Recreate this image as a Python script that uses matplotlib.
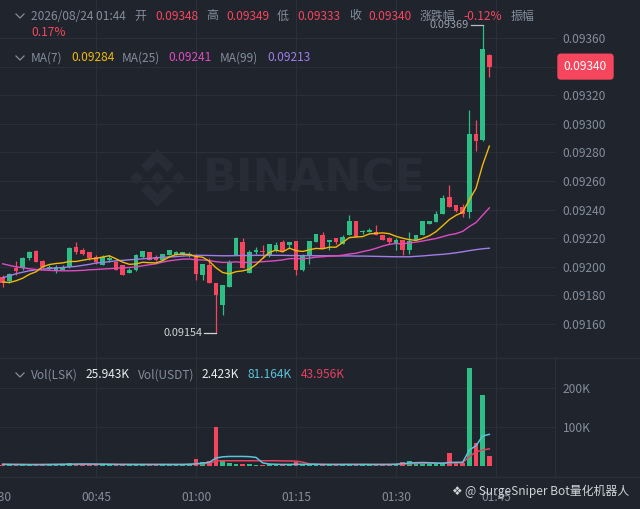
import numpy as np
import pandas as pd
import matplotlib
matplotlib.use("Agg")
import matplotlib.pyplot as plt
import matplotlib.transforms as mtransforms
from matplotlib.patches import Polygon
from matplotlib.lines import Line2D

plt.rcParams['font.family'] = ['Noto Sans CJK SC', 'DejaVu Sans']

# ---- data (1m candles 00:31 .. 01:44) ----
time_ticks = [-1, 14, 29, 44, 59, 74]
time_labels = ['00:30', '00:45', '01:00', '01:15', '01:30', '01:45']
price_ticks = [0.09160, 0.09180, 0.09200, 0.09220, 0.09240, 0.09260,
               0.09280, 0.09300, 0.09320, 0.09340, 0.09360]
vol_ticks = [100, 200]
vol_tick_labels = ['100K', '200K']

opens = [0.09193, 0.09190, 0.09199, 0.09199, 0.09206, 0.09211, 0.09204, 0.09199, 0.09198, 0.09198,
         0.09200, 0.09214, 0.09212, 0.09210, 0.09207, 0.09201, 0.09205, 0.09203, 0.09201, 0.09196,
         0.09198, 0.09207, 0.09210, 0.09207, 0.09205, 0.09208, 0.09208, 0.09208, 0.09208, 0.09208,
         0.09194, 0.09201, 0.09189, 0.09173, 0.09186, 0.09208, 0.09217, 0.09196, 0.09210, 0.09211,
         0.09208, 0.09212, 0.09217, 0.09215, 0.09218, 0.09198, 0.09208, 0.09217, 0.09222, 0.09217,
         0.09220, 0.09216, 0.09222, 0.09232, 0.09224, 0.09224, 0.09224, 0.09222, 0.09220, 0.09216,
         0.09219, 0.09212, 0.09219, 0.09222, 0.09230, 0.09231, 0.09237, 0.09249, 0.09243, 0.09242,
         0.09238, 0.09293, 0.09289, 0.09348]
highs = [0.09194, 0.09196, 0.09204, 0.09207, 0.09211, 0.09212, 0.09205, 0.09201, 0.09201, 0.09201,
         0.09214, 0.09217, 0.09213, 0.09210, 0.09208, 0.09208, 0.09208, 0.09204, 0.09201, 0.09199,
         0.09209, 0.09211, 0.09210, 0.09208, 0.09209, 0.09212, 0.09211, 0.09210, 0.09210, 0.09209,
         0.09202, 0.09206, 0.09189, 0.09187, 0.09205, 0.09221, 0.09220, 0.09212, 0.09214, 0.09215,
         0.09216, 0.09217, 0.09219, 0.09217, 0.09218, 0.09209, 0.09218, 0.09223, 0.09224, 0.09219,
         0.09220, 0.09222, 0.09236, 0.09232, 0.09226, 0.09227, 0.09229, 0.09222, 0.09221, 0.09220,
         0.09219, 0.09224, 0.09222, 0.09232, 0.09232, 0.09239, 0.09250, 0.09257, 0.09243, 0.09244,
         0.09310, 0.09303, 0.09369, 0.09349]
lows = [0.09186, 0.09189, 0.09194, 0.09198, 0.09205, 0.09203, 0.09199, 0.09198, 0.09196, 0.09198,
        0.09199, 0.09209, 0.09208, 0.09205, 0.09202, 0.09201, 0.09203, 0.09198, 0.09194, 0.09196,
        0.09197, 0.09206, 0.09205, 0.09204, 0.09205, 0.09208, 0.09208, 0.09208, 0.09207, 0.09191,
        0.09191, 0.09189, 0.09154, 0.09166, 0.09186, 0.09208, 0.09199, 0.09196, 0.09209, 0.09206,
        0.09207, 0.09210, 0.09211, 0.09213, 0.09194, 0.09197, 0.09202, 0.09217, 0.09213, 0.09212,
        0.09216, 0.09216, 0.09222, 0.09221, 0.09223, 0.09224, 0.09222, 0.09219, 0.09216, 0.09212,
        0.09208, 0.09209, 0.09219, 0.09222, 0.09230, 0.09231, 0.09237, 0.09242, 0.09238, 0.09235,
        0.09234, 0.09281, 0.09288, 0.09333]
closes = [0.09189, 0.09195, 0.09197, 0.09206, 0.09210, 0.09203, 0.09200, 0.09200, 0.09200, 0.09200,
          0.09213, 0.09210, 0.09209, 0.09206, 0.09203, 0.09207, 0.09206, 0.09198, 0.09194, 0.09198,
          0.09208, 0.09211, 0.09205, 0.09205, 0.09209, 0.09212, 0.09210, 0.09210, 0.09209, 0.09195,
          0.09202, 0.09189, 0.09180, 0.09187, 0.09203, 0.09220, 0.09199, 0.09210, 0.09212, 0.09210,
          0.09216, 0.09215, 0.09211, 0.09217, 0.09198, 0.09208, 0.09218, 0.09223, 0.09213, 0.09219,
          0.09217, 0.09221, 0.09232, 0.09221, 0.09225, 0.09226, 0.09222, 0.09219, 0.09217, 0.09219,
          0.09212, 0.09218, 0.09222, 0.09232, 0.09232, 0.09237, 0.09248, 0.09242, 0.09239, 0.09237,
          0.09293, 0.09288, 0.09352, 0.09340]
# volume in thousands of LSK
volumes = [3, 2, 3, 3, 2, 3, 2, 2, 2, 3, 7, 3, 3, 2, 3, 4, 2, 5, 3, 2,
           3, 4, 3, 2, 2, 3, 2, 2, 3, 17, 11, 13, 99, 14, 7, 5, 6, 4, 3, 3,
           4, 2, 3, 2, 9, 4, 3, 3, 3, 2, 3, 3, 6, 3, 2, 2, 3, 2, 3, 3,
           11, 12, 10, 6, 4, 4, 4, 34, 8, 8, 251, 58, 181, 25.943]

# moving-average values before enough candles are on screen
ma7_head = [0.091894, 0.09189, 0.091902, 0.09192, 0.091947, 0.091965]
ma25_head = [0.092021, 0.09201, 0.0920, 0.091993, 0.091986, 0.091981, 0.091977, 0.091975,
             0.091973, 0.091972, 0.091972, 0.091973, 0.091975, 0.091979, 0.091981, 0.091984,
             0.091987, 0.09199, 0.091993, 0.091995, 0.0920, 0.092007, 0.092014, 0.092021]
ma99 = [0.091923, 0.091937, 0.091951, 0.091962, 0.091972, 0.091979, 0.091984, 0.091988, 0.091992, 0.091995,
        0.091999, 0.092003, 0.09201, 0.092017, 0.092026, 0.092031, 0.092036, 0.092042, 0.092045, 0.092049,
        0.092052, 0.092056, 0.092059, 0.092063, 0.092066, 0.092069, 0.092071, 0.092075, 0.092078, 0.09208,
        0.09208, 0.092079, 0.092078, 0.092077, 0.092077, 0.092078, 0.092079, 0.092079, 0.09208, 0.09208,
        0.09208, 0.09208, 0.09208, 0.092079, 0.092078, 0.092078, 0.092078, 0.092077, 0.092077, 0.092077,
        0.092076, 0.092076, 0.092076, 0.092075, 0.092075, 0.092074, 0.092073, 0.092072, 0.092071, 0.09207,
        0.09207, 0.09207, 0.092073, 0.092076, 0.09208, 0.092084, 0.092087, 0.092092, 0.092098, 0.092105,
        0.092113, 0.09212, 0.092126, 0.09213]
vol_ma5 = [4.5, 4.2, 4.0, 3.8, 3.6, 3.6, 3.8, 4.0, 4.2, 4.4, 4.6, 4.8, 5.0, 5.0, 4.8,
           4.6, 4.4, 4.2, 4.0, 4.0, 4.0, 4.0, 4.0, 4.0, 4.0, 4.0, 4.0, 4.0, 4.5,
           5.5, 7.5, 9.5, 20.5, 23.5, 24.5, 24.5, 24.5, 24.0, 22.0,
           8.0, 5.0, 4.5, 4.0, 4.0, 4.5, 4.5, 4.5, 4.5, 4.0, 4.0, 4.0, 4.0, 4.0, 4.0,
           4.0, 4.0, 4.0, 4.0, 4.0, 4.5,
           6.0, 7.5, 8.5, 9.0, 8.5, 7.5, 7.0, 9.0, 9.5, 9.5,
           41.0, 52.0, 77.0, 81.164]
vol_ma10 = [4.2, 4.1, 4.0, 4.0, 3.9, 3.8, 3.8, 3.8, 3.9, 4.0, 4.2, 4.3, 4.4, 4.5, 4.5,
            4.5, 4.4, 4.3, 4.2, 4.1, 4.0, 4.0, 4.0, 4.0, 4.0, 3.9, 3.9, 3.9, 4.0,
            5.0, 6.0, 7.0, 13.0, 13.5, 13.5, 13.5, 13.5, 13.5, 13.5, 13.5, 13.5, 13.5,
            13.0, 13.0, 12.5, 10.0,
            5.5, 4.5, 4.2, 4.0, 4.0, 4.0, 4.2, 4.2, 4.2, 4.0, 4.0, 4.0, 4.0, 4.2,
            5.0, 5.8, 6.5, 7.0, 7.2, 7.2, 7.2, 8.0, 8.2, 8.5,
            24.0, 36.0, 41.0, 43.956]

# ---- colours ----
BG = '#1f242d'
GRID = '#2a303a'
GRAY = '#848e9c'
WHITE = '#eaecef'
UP = '#2ebd85'
DOWN = '#f6465d'
MA7_C = '#f0b90b'
MA25_C = '#e04bc0'
MA99_C = '#a07ee8'
VMA5_C = '#5cc3dc'
VMA10_C = '#e8405f'
WM = '#272d37'
FS = 8.6

W, H = 640, 509
fig = plt.figure(figsize=(W / 100, H / 100), dpi=100)
fig.patch.set_facecolor(BG)

ax = fig.add_axes([-10 / W, 1 - 357 / H, 565 / W, 357 / H])
axv = fig.add_axes([-10 / W, 1 - 477 / H, 565 / W, 120 / H])
for a in (ax, axv):
    a.set_facecolor(BG)
    a.set_xlim(-1.9, 82.85)
    a.set_xticks(time_ticks)
    a.grid(True, color=GRID, lw=0.8, zorder=0)
    a.set_axisbelow(True)
    a.yaxis.tick_right()
    for s in a.spines.values():
        s.set_visible(False)

x = np.arange(len(closes))
o = np.array(opens)
c = np.array(closes)
up = c >= o
colors = np.where(up, UP, DOWN)

# candles
ax.vlines(x, lows, highs, colors=colors, lw=0.9, zorder=3)
body = np.maximum(np.abs(c - o), 0.000007)
ax.bar(x, body, bottom=np.minimum(o, c), width=0.72, color=colors, zorder=4)

# moving averages
ma7 = pd.Series(closes).rolling(7).mean().to_numpy()
ma7[:6] = ma7_head
ma25 = pd.Series(closes).rolling(25).mean().to_numpy()
ma25[:24] = ma25_head
ax.plot(x, ma99, color=MA99_C, lw=1.0, zorder=5)
ax.plot(x, ma25, color=MA25_C, lw=1.0, zorder=5)
ax.plot(x, ma7, color=MA7_C, lw=1.0, zorder=5)

ax.set_ylim(0.091369, 0.093866)
ax.set_yticks(price_ticks)
# the 0.09340 label sits under the last-price tag
ax.set_yticklabels(['' if abs(p - closes[-1]) < 1e-7 else f'{p:.5f}' for p in price_ticks])
ax.tick_params(axis='y', length=0, pad=5.5, labelcolor=GRAY, labelsize=FS)
ax.tick_params(axis='x', length=0, labelbottom=False)

# high / low markers
hi = int(np.argmax(highs))
lo = int(np.argmin(lows))
ax.plot([hi - 1.8, hi], [highs[hi], highs[hi]], color='#b7bdc6', lw=0.9, zorder=6)
ax.text(hi - 2.1, highs[hi], f'{highs[hi]:.5f}', color='#9aa1ac', fontsize=7.8,
        ha='right', va='center', zorder=6)
ax.plot([lo - 1.8, lo], [lows[lo], lows[lo]], color='#d0d4da', lw=0.9, zorder=6)
ax.text(lo - 2.1, lows[lo], f'{lows[lo]:.5f}', color='#d0d4da', fontsize=7.8,
        ha='right', va='center', zorder=6)

# last price tag
trans = mtransforms.blended_transform_factory(ax.transAxes, ax.transData)
ax.text(1 + 30.5 / 565, closes[-1], f'{closes[-1]:.5f}', transform=trans, color='white',
        fontsize=FS, ha='center', va='center', clip_on=False, zorder=10,
        bbox=dict(boxstyle='round,pad=0.55,rounding_size=0.3', fc=DOWN, ec='none'))


# watermark logo + text (figure pixel coordinates)
def px(xp, yp):
    return (xp / W, 1 - yp / H)


cx, cy = 157.5, 178
shapes = [
    [(-21 - 6.5, 0), (-21, -6.5), (-21 + 6.5, 0), (-21, 6.5)],
    [(21 - 6.5, 0), (21, -6.5), (21 + 6.5, 0), (21, 6.5)],
    [(-6.5, 0), (0, -6.5), (6.5, 0), (0, 6.5)],
    [(0, -29), (16.5, -12.5), (10, -6), (0, -16), (-10, -6), (-16.5, -12.5)],
    [(0, 29), (16.5, 12.5), (10, 6), (0, 16), (-10, 6), (-16.5, 12.5)],
]
for sh in shapes:
    fig.patches.append(Polygon([px(cx + a, cy + b) for a, b in sh], closed=True,
                               transform=fig.transFigure, fc=WM, ec='none', zorder=0.5))
fig.text(*px(314, 179), 'BINANCE', color=WM, fontsize=32, fontweight='bold',
         family='DejaVu Sans', ha='center', va='center', zorder=0.5)

# volume pane
axv.bar(x, volumes, width=0.72, color=colors, zorder=3)
axv.plot(x, vol_ma10, color=VMA10_C, lw=1.1, zorder=4)
axv.plot(x, vol_ma5, color=VMA5_C, lw=1.1, zorder=4)
axv.set_ylim(-28.2, 279.5)
axv.set_yticks(vol_ticks)
axv.set_yticklabels(vol_tick_labels)
axv.tick_params(axis='y', length=0, pad=5.5, labelcolor=GRAY, labelsize=FS)
axv.set_xticklabels(time_labels)
axv.tick_params(axis='x', length=0, pad=10, labelcolor=GRAY, labelsize=FS)
axv.spines['right'].set_visible(True)
axv.spines['right'].set_color(GRID)

for yp in (357.5, 477):
    fig.add_artist(Line2D([0, 1], [1 - yp / H] * 2, transform=fig.transFigure, color=GRID, lw=1))


def ftxt(xp, yp, s, color, **kw):
    fig.text(*px(xp, yp), s, color=color, fontsize=FS, ha='left', va='center', **kw)


def chevron(yp):
    fig.add_artist(Line2D([16 / W, 20 / W, 24 / W], [1 - (yp - 2) / H, 1 - (yp + 2) / H, 1 - (yp - 2) / H],
                          transform=fig.transFigure, color=GRAY, lw=0.9))


# header rows
chevron(16)
header = [(31, '2026/08/24 01:44', GRAY), (134, '开', GRAY), (155, '0.09348', DOWN),
          (206, '高', GRAY), (226, '0.09349', DOWN), (277, '低', GRAY), (297, '0.09333', DOWN),
          (349, '收', GRAY), (368.5, '0.09340', DOWN), (420, '涨跌幅', GRAY), (463, '-0.12%', DOWN),
          (511, '振幅', GRAY)]
for xp, s, col in header:
    ftxt(xp, 16, s, col)
ftxt(31, 33, '0.17%', DOWN)

chevron(58)
ma_row = [(31, 'MA(7)', GRAY), (71.5, '0.09284', MA7_C), (121.5, 'MA(25)', GRAY),
          (168, '0.09241', MA25_C), (220, 'MA(99)', GRAY), (267, '0.09213', MA99_C)]
for xp, s, col in ma_row:
    ftxt(xp, 58, s, col)

chevron(375)
vol_row = [(31, 'Vol(LSK)', GRAY), (85.5, '25.943K', WHITE), (138, 'Vol(USDT)', GRAY),
           (202, '2.423K', WHITE), (248, '81.164K', VMA5_C), (301, '43.956K', VMA10_C)]
for xp, s, col in vol_row:
    ftxt(xp, 375, s, col)

# bottom-right watermark
ftxt(451, 491, '❖', '#d0d4da', family=['DejaVu Sans'], zorder=20)
ftxt(465, 491, '@ SurgeSniper Bot量化机器人', '#d0d4da', zorder=20)

fig.savefig('out.png', dpi=100, facecolor=BG)
